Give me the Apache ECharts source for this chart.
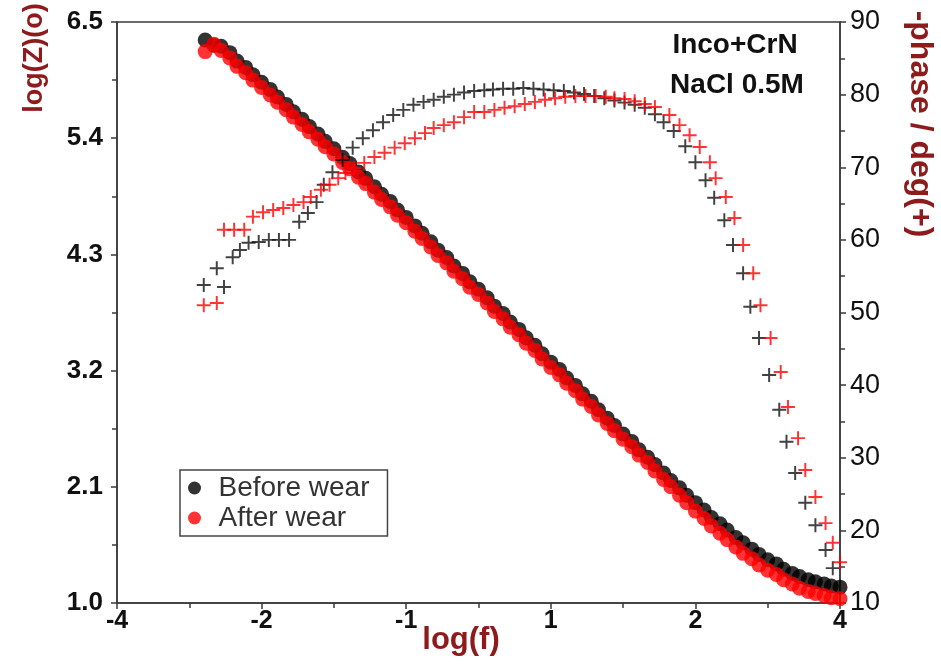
<!DOCTYPE html>
<html>
<head>
<meta charset="utf-8">
<script src="https://cdn.jsdelivr.net/npm/echarts@6/dist/echarts.min.js"></script>
<style>
  html, body { margin: 0; padding: 0; background: #fff; }
  #chart { width: 941px; height: 667px; }
</style>
</head>
<body>
<div id="chart"></div>
<script>
// Bottom axis tick labels, one per major tick position (0..5)
const xTickLabels = ['-4', '-2', '-1', '1', '2', '4'];

// Impedance modulus, log(Z), sampled along the frequency sweep (x in axis tick units)
const impFreq = [0.61, 0.67, 0.72, 0.78, 0.83, 0.89, 0.94, 1.00, 1.06, 1.11,
  1.17, 1.22, 1.28, 1.33, 1.39, 1.44, 1.50, 1.56, 1.61, 1.67,
  1.72, 1.78, 1.83, 1.89, 1.94, 2.00, 2.06, 2.11, 2.17, 2.22,
  2.28, 2.33, 2.39, 2.44, 2.50, 2.56, 2.61, 2.67, 2.72, 2.78,
  2.83, 2.89, 2.94, 3.00, 3.06, 3.11, 3.17, 3.22, 3.28, 3.33,
  3.39, 3.44, 3.50, 3.56, 3.61, 3.67, 3.72, 3.78, 3.83, 3.89,
  3.94, 4.00, 4.06, 4.11, 4.17, 4.22, 4.28, 4.33, 4.39, 4.44,
  4.50, 4.56, 4.61, 4.67, 4.72, 4.78, 4.83, 4.89, 4.94, 5.00];

const logZBefore = [6.33, 6.28, 6.27, 6.21, 6.13, 6.07, 6.00, 5.93, 5.86, 5.79,
  5.72, 5.65, 5.58, 5.51, 5.44, 5.37, 5.30, 5.22, 5.16, 5.08,
  5.02, 4.94, 4.87, 4.80, 4.72, 4.65, 4.57, 4.50, 4.42, 4.34,
  4.27, 4.19, 4.12, 4.04, 3.97, 3.89, 3.81, 3.74, 3.66, 3.59,
  3.51, 3.44, 3.36, 3.28, 3.21, 3.13, 3.06, 2.98, 2.91, 2.83,
  2.75, 2.68, 2.60, 2.53, 2.45, 2.38, 2.31, 2.23, 2.16, 2.09,
  2.02, 1.95, 1.88, 1.81, 1.75, 1.69, 1.62, 1.57, 1.51, 1.46,
  1.41, 1.37, 1.32, 1.28, 1.25, 1.22, 1.20, 1.18, 1.16, 1.15];

const logZAfter = [6.22, 6.29, 6.23, 6.16, 6.08, 6.02, 5.95, 5.88, 5.81, 5.74,
  5.67, 5.60, 5.53, 5.46, 5.39, 5.32, 5.25, 5.17, 5.11, 5.03,
  4.97, 4.89, 4.82, 4.75, 4.67, 4.60, 4.52, 4.45, 4.37, 4.29,
  4.22, 4.14, 4.07, 3.99, 3.92, 3.84, 3.76, 3.69, 3.61, 3.54,
  3.46, 3.39, 3.31, 3.23, 3.16, 3.08, 3.01, 2.93, 2.86, 2.78,
  2.70, 2.63, 2.55, 2.48, 2.40, 2.33, 2.25, 2.17, 2.10, 2.02,
  1.95, 1.87, 1.80, 1.73, 1.66, 1.60, 1.53, 1.47, 1.42, 1.36,
  1.31, 1.27, 1.22, 1.18, 1.14, 1.11, 1.09, 1.07, 1.05, 1.04];

// Phase angle (-phase, degrees), before wear
const phaseFreqBefore = [0.60, 0.69, 0.74, 0.80, 0.85, 0.91, 0.98, 1.05, 1.12, 1.19,
  1.26, 1.32, 1.38, 1.43, 1.49, 1.56, 1.63, 1.70, 1.77, 1.84,
  1.91, 1.98, 2.05, 2.12, 2.19, 2.26, 2.33, 2.40, 2.47, 2.54,
  2.60, 2.67, 2.74, 2.81, 2.88, 2.95, 3.02, 3.09, 3.16, 3.23,
  3.30, 3.37, 3.44, 3.51, 3.58, 3.65, 3.72, 3.78, 3.85, 3.93,
  4.00, 4.07, 4.13, 4.20, 4.26, 4.33, 4.38, 4.44, 4.51, 4.58,
  4.63, 4.69, 4.76, 4.83, 4.90, 4.95];
const phaseBefore = [53.8, 56.1, 53.5, 57.6, 58.6, 59.6, 59.7, 60.0, 60.0, 60.0,
  62.5, 63.7, 65.2, 67.6, 69.3, 71.0, 72.7, 74.0, 75.1, 76.2,
  77.2, 77.9, 78.6, 79.0, 79.3, 79.7, 80.0, 80.3, 80.5, 80.6,
  80.7, 80.8, 80.8, 80.9, 80.8, 80.7, 80.6, 80.5, 80.3, 80.1,
  79.8, 79.5, 79.2, 78.9, 78.6, 78.2, 77.3, 76.2, 75.0, 72.9,
  70.7, 68.2, 65.8, 62.7, 59.3, 55.4, 50.8, 46.5, 41.4, 36.6,
  32.2, 27.9, 23.8, 20.7, 17.3, 14.8];

// Phase angle (-phase, degrees), after wear
const phaseFreqAfter = [0.60, 0.69, 0.74, 0.81, 0.88, 0.94, 1.01, 1.08, 1.15, 1.22,
  1.29, 1.34, 1.41, 1.47, 1.53, 1.58, 1.64, 1.71, 1.78, 1.85,
  1.92, 1.99, 2.06, 2.13, 2.19, 2.26, 2.33, 2.40, 2.47, 2.54,
  2.61, 2.68, 2.75, 2.82, 2.89, 2.96, 3.03, 3.10, 3.17, 3.24,
  3.31, 3.38, 3.44, 3.51, 3.58, 3.65, 3.72, 3.82, 3.89, 3.96,
  4.03, 4.10, 4.14, 4.21, 4.27, 4.33, 4.40, 4.45, 4.52, 4.59,
  4.64, 4.71, 4.76, 4.83, 4.90, 4.95, 5.00];
const phaseAfter = [51.0, 51.3, 61.4, 61.4, 61.4, 63.2, 63.8, 64.1, 64.4, 64.8,
  65.2, 65.9, 66.9, 67.6, 68.5, 69.2, 69.9, 70.6, 71.4, 72.0,
  72.7, 73.3, 74.0, 74.7, 75.4, 75.8, 76.2, 76.9, 77.6, 77.6,
  77.9, 78.2, 78.4, 78.7, 79.0, 79.3, 79.5, 79.7, 79.8, 79.8,
  79.8, 79.7, 79.5, 79.4, 79.1, 78.7, 78.3, 77.2, 75.8, 74.4,
  72.8, 70.7, 68.5, 65.9, 63.0, 59.3, 55.4, 51.0, 46.5, 41.8,
  37.0, 32.7, 28.3, 24.6, 21.0, 18.3, 15.6];

const zip = (xs, ys) => xs.map((x, i) => [x, ys[i]]);

const FONT = "'Liberation Sans', Arial, Helvetica, sans-serif";
const AXIS_COLOR = '#3a3a3a';
const TITLE_COLOR = '#8e1b1b';
// filled plus sign used for the phase markers
const PLUS = 'path://M0,8.6H8.6V0H11.4V8.6H20V11.4H11.4V20H8.6V11.4H0Z';

const axisLine = { lineStyle: { color: AXIS_COLOR, width: 1.5 } };
const axisTick = { length: 6, lineStyle: { color: AXIS_COLOR, width: 1.5 } };
const minorTick = { show: true, splitNumber: 2, length: 5, lineStyle: { color: AXIS_COLOR, width: 1.5 } };

const boldFont = size => "bold " + size + "px 'Liberation Sans', Arial, sans-serif";

const chart = echarts.init(document.getElementById('chart'));

chart.setOption({
  animation: false,
  backgroundColor: '#ffffff',
  grid: {
    left: 117, right: 101, top: 22, bottom: 64,
    show: true, borderColor: AXIS_COLOR, borderWidth: 1.5
  },
  legend: {
    data: ['Before wear', 'After wear'],
    orient: 'vertical',
    left: 180, top: 470,
    icon: 'circle',
    itemWidth: 22, itemHeight: 13, itemGap: 2,
    padding: [4, 18, 4, 8],
    borderColor: '#444', borderWidth: 1.5,
    backgroundColor: '#fff',
    textStyle: { fontFamily: FONT, fontSize: 28, color: '#333', padding: [0, 0, 0, 8] }
  },
  xAxis: {
    type: 'value', min: 0, max: 5, interval: 1,
    axisLine, axisTick, minorTick,
    splitLine: { show: false },
    axisLabel: {
      formatter: v => xTickLabels[Math.round(v)] || '',
      color: '#111', fontFamily: FONT, fontWeight: 'bold', fontSize: 25, margin: 6
    }
  },
  yAxis: [
    {
      type: 'value', position: 'left', min: 1.0, max: 6.5, interval: 1.1,
      axisLine: Object.assign({ show: true }, axisLine), axisTick, minorTick,
      splitLine: { show: false },
      axisLabel: {
        formatter: v => v.toFixed(1),
        color: '#111', fontFamily: FONT, fontWeight: 'bold', fontSize: 26, margin: 14
      }
    },
    {
      type: 'value', position: 'right', min: 10, max: 90, interval: 10,
      axisLine: Object.assign({ show: true }, axisLine), axisTick, minorTick,
      splitLine: { show: false },
      axisLabel: {
        color: '#111', fontFamily: FONT, fontSize: 27, margin: 10
      }
    }
  ],
  graphic: [
    {
      type: 'text', x: 35, y: 58, rotation: Math.PI / 2,
      style: { text: 'log(Z)(o)', fill: TITLE_COLOR, font: boldFont(27),
        textAlign: 'center', textVerticalAlign: 'middle' }
    },
    {
      type: 'text', x: 920, y: 124, rotation: -Math.PI / 2,
      style: { text: '-phase / deg(+)', fill: TITLE_COLOR, font: boldFont(32),
        textAlign: 'center', textVerticalAlign: 'middle' }
    },
    {
      type: 'text', x: 461, y: 640,
      style: { text: 'log(f)', fill: TITLE_COLOR, font: boldFont(31),
        textAlign: 'center', textVerticalAlign: 'middle' }
    },
    {
      type: 'text', x: 735, y: 45,
      style: { text: 'Inco+CrN', fill: '#111', font: boldFont(28),
        textAlign: 'center', textVerticalAlign: 'middle' }
    },
    {
      type: 'text', x: 737, y: 85,
      style: { text: 'NaCl 0.5M', fill: '#111', font: boldFont(28),
        textAlign: 'center', textVerticalAlign: 'middle' }
    }
  ],
  series: [
    {
      name: 'Before wear', type: 'scatter', yAxisIndex: 0,
      symbol: 'circle', symbolSize: 15,
      itemStyle: { color: '#000' },
      data: zip(impFreq, logZBefore)
    },
    {
      name: 'After wear', type: 'scatter', yAxisIndex: 0,
      symbol: 'circle', symbolSize: 15,
      itemStyle: { color: '#ff0000' },
      data: zip(impFreq, logZAfter)
    },
    {
      name: 'Phase before wear', type: 'scatter', yAxisIndex: 1,
      symbol: PLUS, symbolSize: 14,
      itemStyle: { color: '#111' },
      data: zip(phaseFreqBefore, phaseBefore)
    },
    {
      name: 'Phase after wear', type: 'scatter', yAxisIndex: 1,
      symbol: PLUS, symbolSize: 14,
      itemStyle: { color: '#ff0000' },
      data: zip(phaseFreqAfter, phaseAfter)
    }
  ]
});
</script>
</body>
</html>
